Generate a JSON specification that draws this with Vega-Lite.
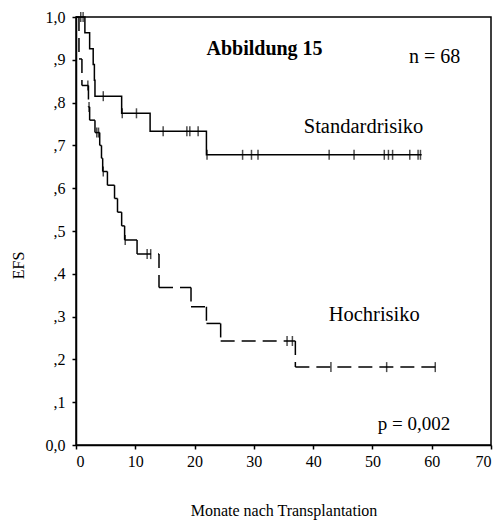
{
  "$schema": "https://vega.github.io/schema/vega-lite/v6.json",
  "width": 415,
  "height": 428,
  "autosize": {"type": "none"},
  "padding": {"left": 76, "top": 17, "right": 10, "bottom": 76},
  "background": "white",
  "config": {
    "view": {"stroke": "black", "strokeWidth": 1.5},
    "font": "Liberation Serif, Times New Roman, serif",
    "text": {"font": "Liberation Serif, Times New Roman, serif"},
    "axis": {
      "domainColor": "black", "domainWidth": 1.5,
      "tickColor": "black", "tickWidth": 1.5, "tickSize": 4,
      "labelColor": "black", "labelFont": "Liberation Serif, Times New Roman, serif", "labelFontSize": 16,
      "titleColor": "black", "titleFont": "Liberation Serif, Times New Roman, serif", "titleFontSize": 16, "titleFontWeight": "normal",
      "grid": false
    }
  },
  "datasets": {
    "curves": [
      {"group": "Standardrisiko", "t": 0, "s": 1.0},
      {"group": "Standardrisiko", "t": 1.5, "s": 0.963},
      {"group": "Standardrisiko", "t": 2.3, "s": 0.926},
      {"group": "Standardrisiko", "t": 2.9, "s": 0.889},
      {"group": "Standardrisiko", "t": 3.1, "s": 0.852},
      {"group": "Standardrisiko", "t": 3.2, "s": 0.815},
      {"group": "Standardrisiko", "t": 7.7, "s": 0.775},
      {"group": "Standardrisiko", "t": 12.5, "s": 0.733},
      {"group": "Standardrisiko", "t": 22.0, "s": 0.678},
      {"group": "Standardrisiko", "t": 58.3, "s": 0.678},
      {"group": "Hochrisiko", "t": 0, "s": 1.0},
      {"group": "Hochrisiko", "t": 0.5, "s": 0.902},
      {"group": "Hochrisiko", "t": 1.0, "s": 0.84},
      {"group": "Hochrisiko", "t": 2.1, "s": 0.79},
      {"group": "Hochrisiko", "t": 2.3, "s": 0.759},
      {"group": "Hochrisiko", "t": 3.2, "s": 0.73},
      {"group": "Hochrisiko", "t": 4.0, "s": 0.7},
      {"group": "Hochrisiko", "t": 4.3, "s": 0.67},
      {"group": "Hochrisiko", "t": 4.5, "s": 0.639},
      {"group": "Hochrisiko", "t": 5.3, "s": 0.607},
      {"group": "Hochrisiko", "t": 6.5, "s": 0.576},
      {"group": "Hochrisiko", "t": 7.0, "s": 0.544},
      {"group": "Hochrisiko", "t": 7.7, "s": 0.512},
      {"group": "Hochrisiko", "t": 8.2, "s": 0.479},
      {"group": "Hochrisiko", "t": 10.3, "s": 0.446},
      {"group": "Hochrisiko", "t": 14.0, "s": 0.368},
      {"group": "Hochrisiko", "t": 19.4, "s": 0.323},
      {"group": "Hochrisiko", "t": 22.0, "s": 0.284},
      {"group": "Hochrisiko", "t": 24.4, "s": 0.243},
      {"group": "Hochrisiko", "t": 37.0, "s": 0.182},
      {"group": "Hochrisiko", "t": 60.6, "s": 0.182}
    ],
    "censors": [
      {"group": "Standardrisiko", "t": 0.8, "s": 1.0},
      {"group": "Standardrisiko", "t": 1.2, "s": 1.0},
      {"group": "Standardrisiko", "t": 4.6, "s": 0.815},
      {"group": "Standardrisiko", "t": 7.8, "s": 0.775},
      {"group": "Standardrisiko", "t": 10.2, "s": 0.775},
      {"group": "Standardrisiko", "t": 14.7, "s": 0.733},
      {"group": "Standardrisiko", "t": 18.7, "s": 0.733},
      {"group": "Standardrisiko", "t": 19.2, "s": 0.733},
      {"group": "Standardrisiko", "t": 20.6, "s": 0.733},
      {"group": "Standardrisiko", "t": 22.1, "s": 0.678},
      {"group": "Standardrisiko", "t": 28.1, "s": 0.678},
      {"group": "Standardrisiko", "t": 29.6, "s": 0.678},
      {"group": "Standardrisiko", "t": 30.7, "s": 0.678},
      {"group": "Standardrisiko", "t": 42.7, "s": 0.678},
      {"group": "Standardrisiko", "t": 46.9, "s": 0.678},
      {"group": "Standardrisiko", "t": 52.0, "s": 0.678},
      {"group": "Standardrisiko", "t": 52.7, "s": 0.678},
      {"group": "Standardrisiko", "t": 53.4, "s": 0.678},
      {"group": "Standardrisiko", "t": 56.3, "s": 0.678},
      {"group": "Standardrisiko", "t": 57.7, "s": 0.678},
      {"group": "Standardrisiko", "t": 58.1, "s": 0.678},
      {"group": "Hochrisiko", "t": 2.0, "s": 0.84},
      {"group": "Hochrisiko", "t": 2.2, "s": 0.79},
      {"group": "Hochrisiko", "t": 3.5, "s": 0.73},
      {"group": "Hochrisiko", "t": 3.8, "s": 0.73},
      {"group": "Hochrisiko", "t": 4.6, "s": 0.639},
      {"group": "Hochrisiko", "t": 8.3, "s": 0.479},
      {"group": "Hochrisiko", "t": 12.0, "s": 0.446},
      {"group": "Hochrisiko", "t": 12.6, "s": 0.446},
      {"group": "Hochrisiko", "t": 35.6, "s": 0.243},
      {"group": "Hochrisiko", "t": 36.5, "s": 0.243},
      {"group": "Hochrisiko", "t": 43.0, "s": 0.182},
      {"group": "Hochrisiko", "t": 52.4, "s": 0.182},
      {"group": "Hochrisiko", "t": 60.6, "s": 0.182}
    ]
  },
  "layer": [
    {
      "data": {"name": "curves"},
      "transform": [{"filter": "datum.group == 'Standardrisiko'"}],
      "mark": {"type": "line", "interpolate": "step-after", "color": "black", "strokeWidth": 1.5},
      "encoding": {
        "x": {
          "field": "t", "type": "quantitative",
          "scale": {"domain": [0, 70], "nice": false, "zero": false},
          "axis": {"values": [0, 10, 20, 30, 40, 50, 60, 70], "title": "Monate nach Transplantation", "labelPadding": 4, "titleY": 65, "titleBaseline": "middle"}
        },
        "y": {
          "field": "s", "type": "quantitative",
          "scale": {"domain": [0, 1], "nice": false},
          "axis": {
            "values": [0, 0.1, 0.2, 0.3, 0.4, 0.5, 0.6, 0.7, 0.8, 0.9, 1.0],
            "labelExpr": "datum.value == 0 ? '0,0' : (datum.value == 1 ? '1,0' : ',' + round(datum.value * 10))",
            "labelPadding": 7,
            "title": "EFS", "titleX": -58, "titleY": 248, "titleAlign": "center", "titleBaseline": "middle"
          }
        }
      }
    },
    {
      "data": {"name": "curves"},
      "transform": [
        {"filter": "datum.group == 'Hochrisiko'"},
        {"window": [{"op": "lead", "field": "t", "as": "t2"}, {"op": "lead", "field": "s", "as": "s2"}], "sort": [{"field": "t"}]},
        {"filter": "datum.t2 != null"}
      ],
      "layer": [
        {
          "mark": {"type": "rule", "color": "black", "strokeWidth": 1.5, "strokeDash": [14, 7]},
          "encoding": {
            "x": {"field": "t", "type": "quantitative"},
            "x2": {"field": "t2"},
            "y": {"field": "s", "type": "quantitative"}
          }
        },
        {
          "mark": {"type": "rule", "color": "black", "strokeWidth": 1.5, "strokeDash": [14, 7]},
          "encoding": {
            "x": {"field": "t2", "type": "quantitative"},
            "y": {"field": "s", "type": "quantitative"},
            "y2": {"field": "s2"}
          }
        }
      ]
    },
    {
      "data": {"name": "censors"},
      "mark": {"type": "tick", "orient": "vertical", "color": "black", "size": 10, "thickness": 1.5},
      "encoding": {
        "x": {"field": "t", "type": "quantitative"},
        "y": {"field": "s", "type": "quantitative"}
      }
    },
    {
      "data": {"values": [{}]},
      "mark": {"type": "text", "text": "Abbildung 15", "fontSize": 20, "fontWeight": "bold", "align": "center", "baseline": "alphabetic", "color": "black"},
      "encoding": {"x": {"datum": 31.8}, "y": {"datum": 0.911}}
    },
    {
      "data": {"values": [{}]},
      "mark": {"type": "text", "text": "n = 68", "fontSize": 20, "align": "center", "baseline": "alphabetic", "color": "black"},
      "encoding": {"x": {"datum": 60.5}, "y": {"datum": 0.893}}
    },
    {
      "data": {"values": [{}]},
      "mark": {"type": "text", "text": "Standardrisiko", "fontSize": 20.5, "align": "center", "baseline": "alphabetic", "color": "black"},
      "encoding": {"x": {"datum": 48.5}, "y": {"datum": 0.73}}
    },
    {
      "data": {"values": [{}]},
      "mark": {"type": "text", "text": "Hochrisiko", "fontSize": 20.5, "align": "center", "baseline": "alphabetic", "color": "black"},
      "encoding": {"x": {"datum": 50.3}, "y": {"datum": 0.29}}
    },
    {
      "data": {"values": [{}]},
      "mark": {"type": "text", "text": "p = 0,002", "fontSize": 19, "align": "center", "baseline": "alphabetic", "color": "black"},
      "encoding": {"x": {"datum": 57.0}, "y": {"datum": 0.035}}
    }
  ]
}
